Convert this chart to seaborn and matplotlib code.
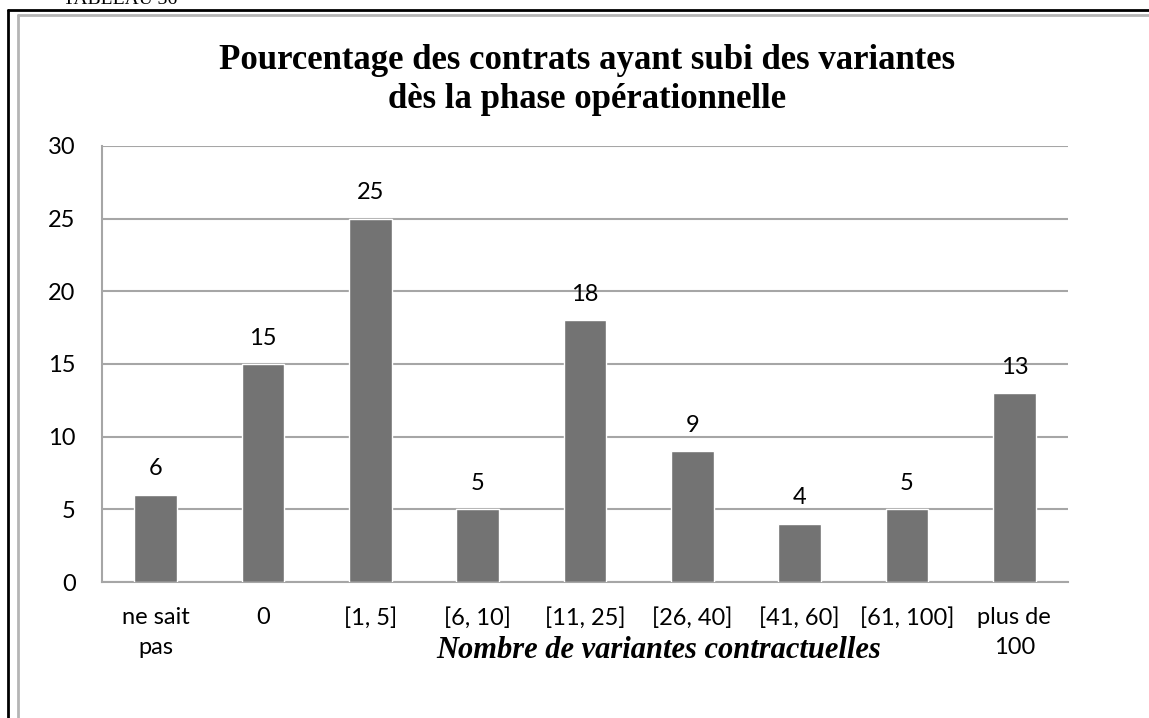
import matplotlib
matplotlib.use("Agg")
import matplotlib.pyplot as plt
import seaborn as sns
from matplotlib.lines import Line2D

categories = ["ne sait\npas", "0", "[1, 5]", "[6, 10]", "[11, 25]",
              "[26, 40]", "[41, 60]", "[61, 100]", "plus de\n100"]
values = [6, 15, 25, 5, 18, 9, 4, 5, 13]
y_ticks = [0, 5, 10, 15, 20, 25, 30]

sns.set_theme(style="white")
plt.rcParams["font.family"] = ["Lato", "DejaVu Sans"]
plt.rcParams["text.color"] = "black"

fig = plt.figure(figsize=(11.49, 7.18), dpi=100)
ax = fig.add_axes([0.0888, 0.1894, 0.8407, 0.6073])

sns.barplot(x=categories, y=values, color="#737373", width=0.4,
            saturation=1, ax=ax, zorder=3)

ax.set_ylim(0, 30)
ax.set_yticks(y_ticks)
ax.yaxis.grid(True, color="#a6a6a6", linewidth=1.5, zorder=0)
ax.tick_params(axis="both", length=0, labelsize=17, colors="black")
ax.tick_params(axis="x", pad=18)
ax.tick_params(axis="y", pad=19)
for lbl in ax.get_xticklabels():
    lbl.set_linespacing(1.5)
for side in ["top", "right"]:
    ax.spines[side].set_visible(False)
for side in ["left", "bottom"]:
    ax.spines[side].set_color("#a6a6a6")
    ax.spines[side].set_linewidth(1.5)

for i, v in enumerate(values):
    ax.annotate(str(v), (i, v), xytext=(0, 14), textcoords="offset points",
                ha="center", va="baseline", fontsize=17, color="black")

ax.set_xlabel("")
ax.set_ylabel("")
fig.text(0.511, 0.889, "Pourcentage des contrats ayant subi des variantes\ndès la phase opérationnelle",
         ha="center", va="center", fontsize=25, fontweight="bold",
         family="Liberation Serif", linespacing=1.25, color="black")
fig.text(0.5735, 0.0947, "Nombre de variantes contractuelles", ha="center", va="center",
         fontsize=22, fontweight="bold", fontstyle="italic",
         family="Liberation Serif", color="black")

# page frame around the chart
fig.text(0.055, 1.012, "TABLEAU 36", ha="left", va="top", fontsize=14,
         family="Liberation Serif")
fig.add_artist(Line2D([0.007, 1.0], [0.986, 0.986], color="black", linewidth=2,
                      transform=fig.transFigure))
fig.add_artist(Line2D([0.007, 0.007], [0.0, 0.986], color="black", linewidth=2,
                      transform=fig.transFigure))
fig.add_artist(Line2D([0.016, 1.0], [0.979, 0.979], color="#b5b5b5", linewidth=2,
                      transform=fig.transFigure))
fig.add_artist(Line2D([0.016, 0.016], [0.0, 0.979], color="#b5b5b5", linewidth=2,
                      transform=fig.transFigure))

fig.savefig("out.png", dpi=100)
